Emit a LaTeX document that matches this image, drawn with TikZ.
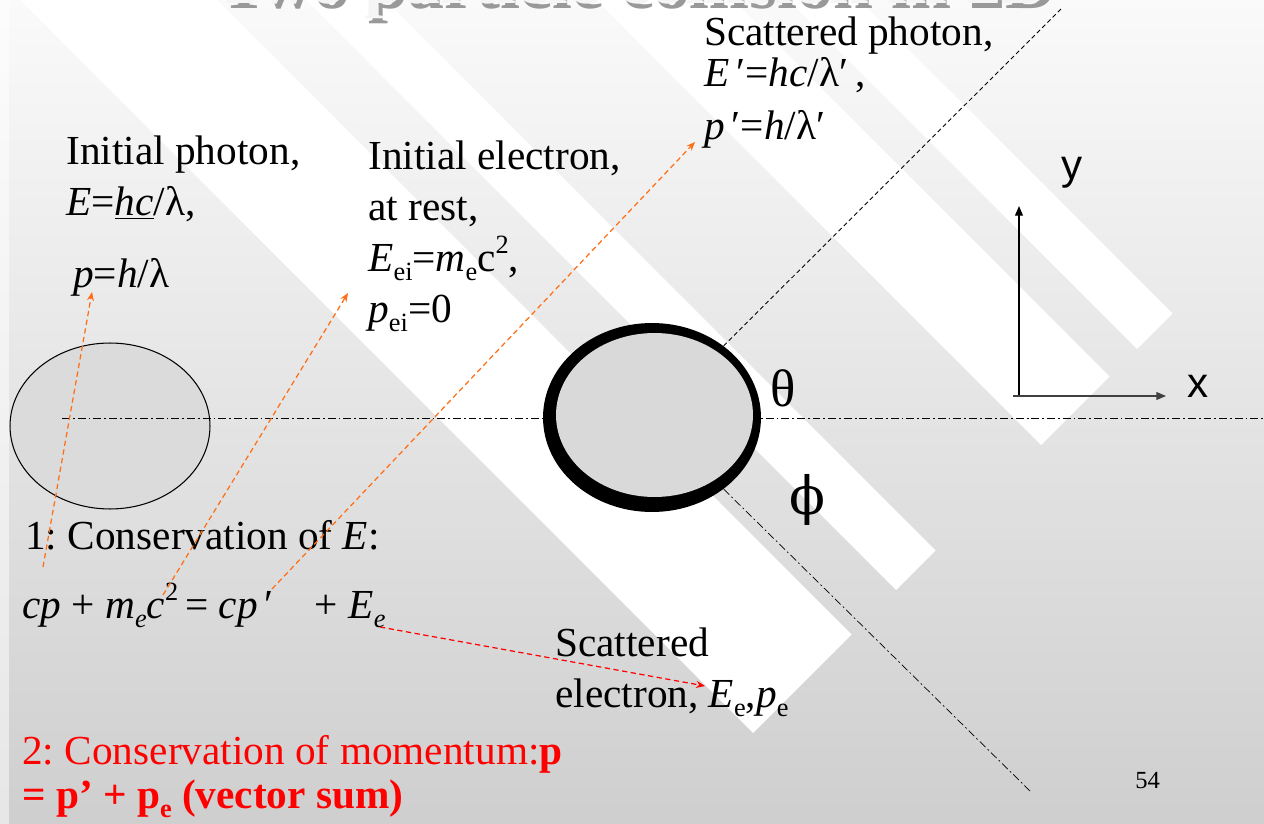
\documentclass[tikz,border=0pt]{standalone}
\usepackage{fontspec}
\setmainfont{Liberation Serif}
\newfontfamily\axisfont{Liberation Sans}
\newfontfamily\phifont{DejaVu Serif}
\usepackage{xcolor}
\usetikzlibrary{arrows.meta,shapes.geometric}
\definecolor{hintorange}{RGB}{255,110,20}
\newcommand{\lowsub}[1]{\raisebox{-0.22em}{\fontsize{15}{15}\selectfont #1}}
\newcommand{\highsup}[1]{\raisebox{0.42em}{\fontsize{15}{15}\selectfont #1}}
\frenchspacing

\begin{document}
\begin{tikzpicture}[
    x=0.02cm, y=-0.02cm,
    >={Stealth[length=5pt,width=4pt]},
    txt/.style={anchor=base west, inner sep=0pt, align=left, font=\fontsize{23.5}{29}\selectfont},
    hint/.style={->, draw=hintorange, line width=0.7pt, dash pattern=on 3pt off 2pt},
    redhint/.style={->, draw=red, line width=0.7pt, dash pattern=on 3pt off 2pt},
    dashdot/.style={line width=0.5pt, dash pattern=on 4.5pt off 1.7pt on 1pt off 1.7pt},
    axis/.style={-{Triangle[length=5.5pt,width=4.5pt]}, line width=0.7pt},
    ball/.style={ellipse, inner sep=0pt}
]
\useasboundingbox (0,0) rectangle (1264,824);
\clip (0,0) rectangle (1264,824);
\shade[top color=black!2, bottom color=black!19] (0,0) rectangle (1264,824);
\foreach \lo/\hi in {20/217, 306/385, 596/733, 788/859}
  \fill[white] ({\lo-100},-100) -- ({\hi-100},-100) -- ({(1486+\hi)/2},{(1486-\hi)/2}) -- ({(1486+\lo)/2},{(1486-\lo)/2}) -- cycle;
\fill[white, opacity=0.5] (0,0) rectangle (9,824);

\node[anchor=base west, inner sep=0pt, font=\fontsize{40.9}{48}\selectfont\bfseries, text=black!40] (titleshadow) at (220,9) {Two particle collision in 2D};
\node[anchor=base west, inner sep=0pt, font=\fontsize{40.9}{48}\selectfont\bfseries, text=black!4] (title) at (216,4) {Two particle collision in 2D};

\node[ball, draw, line width=0.6pt, fill=black!14, minimum width=4cm, minimum height=3.32cm] (photon) at (110,426) {};
\coordinate (axisL) at (62,418);
\coordinate (axisR) at (1264,418);
\draw[dashdot] (axisL) -- (axisR);

\node[ball, fill=black, minimum width=4.36cm, minimum height=3.78cm] (electron) at (652,417.5) {};
\node[ball, fill=black!15, minimum width=3.94cm, minimum height=3.28cm] (core) at (654.5,415) {};

\coordinate (photonend) at (1063,7);
\coordinate (electronend) at (1030,791);
\draw[line width=0.5pt, dash pattern=on 2.5pt off 1.7pt] (electron.45) -- (photonend);
\draw[dashdot, line width=0.4pt] (electron.-45) -- (electronend);

\coordinate (origin) at (1019,396);
\coordinate (xstart) at (1013,396);
\coordinate (ytip) at (1019,206);
\coordinate (xtip) at (1166,396);
\draw[axis] (origin) -- (ytip);
\draw[axis, black!75] (xstart) -- (xtip);
\node[font=\axisfont\fontsize{24}{24}\selectfont] (ylabel) at (1072,173) {y};
\node[font=\axisfont\fontsize{24}{24}\selectfont] (xlabel) at (1198,386) {x};

\node[font=\fontsize{30}{30}\selectfont] (theta) at (783,388) {θ};
\node[font=\phifont\fontsize{30}{30}\selectfont] (phi) at (807,500) {ϕ};

\node[txt] (photonlabel) at (66,215) {Initial photon,\\\textit{E}=\underline{\textit{hc}}/λ,};
\node[txt] (photonmom) at (73,287) {\textit{p}=\textit{h}/λ};
\node[txt] (electronlabel) at (368,322) {Initial electron,\\at rest,\\\textit{E}\lowsub{ei}=\textit{m}\lowsub{e}c\highsup{2},\\\textit{p}\lowsub{ei}=0};
\node[txt] (scatphoton) at (704,140) {Scattered photon,\\[-5.7pt]\textit{E}\,′=\textit{hc}/λ′\,,\\[1.7pt]\textit{p}\,′=\textit{h}/λ′};
\node[txt] (energy) at (25,549) {1: Conservation of \textit{E}:};
\node[txt] (balance) at (22,618) {\textit{cp} + \textit{m}\lowsub{\textit{e}}\textit{c}\highsup{2}\thinspace= \textit{cp}\,′\ \ \ \ + \textit{E}\lowsub{\textit{e}}};
\node[txt] (scatelectron) at (555,707) {Scattered\\electron, \textit{E}\lowsub{e},\textit{p}\lowsub{e}};
\node[txt, text=red] (momentum) at (22,808) {2: Conservation of momentum:\textbf{p}\\[-4.5pt]\textbf{= p’ + p\lowsub{\bfseries e} (vector sum)}};
\node[anchor=base west, inner sep=0pt, font=\fontsize{14}{16}\selectfont] (pagenum) at (1135,788) {54};

\coordinate (cpmark) at (43,567);
\coordinate (pmark) at (92,292);
\coordinate (mcmark) at (163,595);
\coordinate (restmark) at (348,293);
\coordinate (primemark) at (272,589);
\coordinate (scatmark) at (695,142);
\coordinate (eemark) at (380,627);
\coordinate (eetip) at (705,686);
\draw[hint] (cpmark) -- (pmark);
\draw[hint] (mcmark) -- (restmark);
\draw[hint] (primemark) -- (scatmark);
\draw[redhint] (eemark) -- (eetip);
\end{tikzpicture}
\end{document}
